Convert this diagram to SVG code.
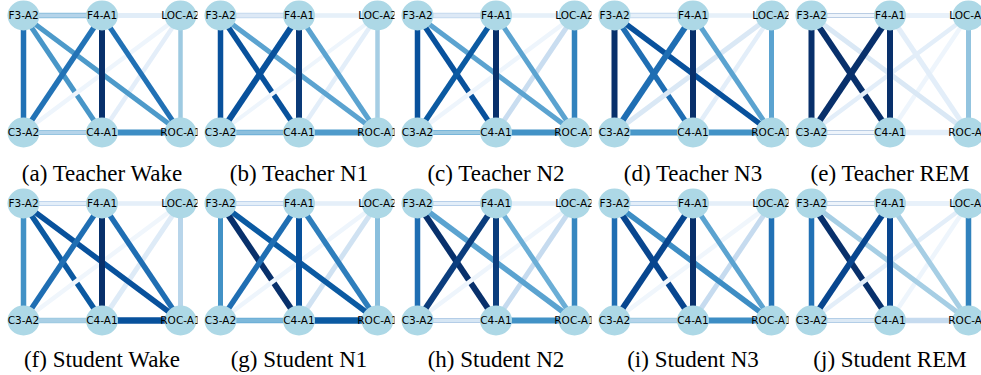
<svg xmlns="http://www.w3.org/2000/svg" width="981" height="375" viewBox="0 0 981 375">
<style>
  .edges line { stroke-linecap: butt; fill: none; }
  .node ellipse { fill: #add8e6; stroke: none; }
  .node text { font-family: "DejaVu Sans", "Liberation Sans", sans-serif; font-size: 10.5px; fill: #000; text-anchor: middle; }
  .caption { font-family: "Liberation Serif", "Times New Roman", serif; font-size: 23px; fill: #000; text-anchor: middle; }
</style>
<defs>
  <clipPath id="panel-clip" clipPathUnits="userSpaceOnUse">
    <rect x="-17" y="-17" width="191" height="151"/>
  </clipPath>
</defs>
<rect width="981" height="375" fill="#fff"/>

<!-- (a) Teacher Wake -->
<g id="panel-a" transform="translate(23.5,15.5)">
 <g clip-path="url(#panel-clip)">
  <g class="edges">
   <line x1="0" y1="0" x2="78.5" y2="0" stroke="#8cbfdd" stroke-width="5.5"/>
   <line x1="0" y1="0" x2="0" y2="117" stroke="#2171b5" stroke-width="5.5"/>
   <line x1="0" y1="0" x2="157" y2="0" stroke="#b5d4ea" stroke-width="3.5"/>
   <line x1="78.5" y1="117" x2="157" y2="0" stroke="#e4eef9" stroke-width="4.5"/>
   <line x1="0" y1="0" x2="78.5" y2="117" stroke="#4896c8" stroke-width="5"/>
   <line x1="0" y1="117" x2="157" y2="0" stroke="#eef5fc" stroke-width="4.5"/>
   <line x1="0" y1="0" x2="157" y2="117" stroke="#4d9aca" stroke-width="5"/>
   <line x1="78.5" y1="0" x2="0" y2="117" stroke="#2373b6" stroke-width="5.5"/>
   <line x1="78.5" y1="0" x2="78.5" y2="117" stroke="#08306b" stroke-width="6"/>
   <line x1="78.5" y1="0" x2="157" y2="0" stroke="#e1edf8" stroke-width="5"/>
   <line x1="78.5" y1="0" x2="157" y2="117" stroke="#2171b5" stroke-width="5"/>
   <line x1="0" y1="117" x2="78.5" y2="117" stroke="#8cbfdd" stroke-width="5"/>
   <line x1="0" y1="117" x2="157" y2="117" stroke="#b5d4ea" stroke-width="3.5"/>
   <line x1="78.5" y1="117" x2="157" y2="117" stroke="#3d8dc4" stroke-width="6"/>
   <line x1="157" y1="0" x2="157" y2="117" stroke="#9ecae1" stroke-width="4.5"/>
  </g>
  <g id="a-F3" class="node"><ellipse cx="0" cy="0" rx="16" ry="15"/><text x="0" y="3.8">F3-A2</text></g>
  <g id="a-F4" class="node"><ellipse cx="78.5" cy="0" rx="16" ry="15"/><text x="78.5" y="3.8">F4-A1</text></g>
  <g id="a-LOC" class="node"><ellipse cx="157" cy="0" rx="16" ry="15"/><text x="157" y="3.8">LOC-A2</text></g>
  <g id="a-C3" class="node"><ellipse cx="0" cy="117" rx="16" ry="15"/><text x="0" y="120.8">C3-A2</text></g>
  <g id="a-C4" class="node"><ellipse cx="78.5" cy="117" rx="16" ry="15"/><text x="78.5" y="120.8">C4-A1</text></g>
  <g id="a-ROC" class="node"><ellipse cx="157" cy="117" rx="16" ry="15"/><text x="157" y="120.8">ROC-A1</text></g>
 </g>
 <text class="caption" x="78.5" y="165.5">(a) Teacher Wake</text>
</g>

<!-- (b) Teacher N1 -->
<g id="panel-b" transform="translate(220.5,15.5)">
 <g clip-path="url(#panel-clip)">
  <g class="edges">
   <line x1="0" y1="0" x2="78.5" y2="0" stroke="#c4d9ee" stroke-width="5.5"/>
   <line x1="0" y1="0" x2="0" y2="117" stroke="#08519c" stroke-width="5.5"/>
   <line x1="0" y1="0" x2="157" y2="0" stroke="#dde9f6" stroke-width="3.5"/>
   <line x1="78.5" y1="117" x2="157" y2="0" stroke="#e3eef9" stroke-width="4.5"/>
   <line x1="0" y1="0" x2="78.5" y2="117" stroke="#08519c" stroke-width="5.5"/>
   <line x1="0" y1="117" x2="157" y2="0" stroke="#eef5fc" stroke-width="4"/>
   <line x1="0" y1="0" x2="157" y2="117" stroke="#5ba3d0" stroke-width="5"/>
   <line x1="78.5" y1="0" x2="0" y2="117" stroke="#08519c" stroke-width="6"/>
   <line x1="78.5" y1="0" x2="78.5" y2="117" stroke="#0a3a78" stroke-width="6"/>
   <line x1="78.5" y1="0" x2="157" y2="0" stroke="#e6f0f9" stroke-width="4.5"/>
   <line x1="78.5" y1="0" x2="157" y2="117" stroke="#5ba3d0" stroke-width="5"/>
   <line x1="0" y1="117" x2="78.5" y2="117" stroke="#6baed6" stroke-width="5.5"/>
   <line x1="0" y1="117" x2="157" y2="117" stroke="#8cbfdd" stroke-width="3.5"/>
   <line x1="78.5" y1="117" x2="157" y2="117" stroke="#4f9bcb" stroke-width="6"/>
   <line x1="157" y1="0" x2="157" y2="117" stroke="#a6cee4" stroke-width="4.5"/>
  </g>
  <g id="b-F3" class="node"><ellipse cx="0" cy="0" rx="16" ry="15"/><text x="0" y="3.8">F3-A2</text></g>
  <g id="b-F4" class="node"><ellipse cx="78.5" cy="0" rx="16" ry="15"/><text x="78.5" y="3.8">F4-A1</text></g>
  <g id="b-LOC" class="node"><ellipse cx="157" cy="0" rx="16" ry="15"/><text x="157" y="3.8">LOC-A2</text></g>
  <g id="b-C3" class="node"><ellipse cx="0" cy="117" rx="16" ry="15"/><text x="0" y="120.8">C3-A2</text></g>
  <g id="b-C4" class="node"><ellipse cx="78.5" cy="117" rx="16" ry="15"/><text x="78.5" y="120.8">C4-A1</text></g>
  <g id="b-ROC" class="node"><ellipse cx="157" cy="117" rx="16" ry="15"/><text x="157" y="120.8">ROC-A1</text></g>
 </g>
 <text class="caption" x="78.5" y="165.5">(b) Teacher N1</text>
</g>

<!-- (c) Teacher N2 -->
<g id="panel-c" transform="translate(417.5,15.5)">
 <g clip-path="url(#panel-clip)">
  <g class="edges">
   <line x1="0" y1="0" x2="78.5" y2="0" stroke="#c4d9ee" stroke-width="5.5"/>
   <line x1="0" y1="0" x2="0" y2="117" stroke="#08519c" stroke-width="5.5"/>
   <line x1="0" y1="0" x2="157" y2="0" stroke="#dde9f6" stroke-width="3.5"/>
   <line x1="78.5" y1="117" x2="157" y2="0" stroke="#c9ddf0" stroke-width="5"/>
   <line x1="0" y1="0" x2="78.5" y2="117" stroke="#08519c" stroke-width="5.5"/>
   <line x1="0" y1="117" x2="157" y2="0" stroke="#eef5fc" stroke-width="4.5"/>
   <line x1="0" y1="0" x2="157" y2="117" stroke="#5ba3d0" stroke-width="5"/>
   <line x1="78.5" y1="0" x2="0" y2="117" stroke="#0b5aa2" stroke-width="5.5"/>
   <line x1="78.5" y1="0" x2="78.5" y2="117" stroke="#08306b" stroke-width="6"/>
   <line x1="78.5" y1="0" x2="157" y2="0" stroke="#e6f0f9" stroke-width="4.5"/>
   <line x1="78.5" y1="0" x2="157" y2="117" stroke="#5ba3d0" stroke-width="5"/>
   <line x1="0" y1="117" x2="78.5" y2="117" stroke="#6baed6" stroke-width="5"/>
   <line x1="0" y1="117" x2="157" y2="117" stroke="#9ecae1" stroke-width="3.5"/>
   <line x1="78.5" y1="117" x2="157" y2="117" stroke="#4292c6" stroke-width="6"/>
   <line x1="157" y1="0" x2="157" y2="117" stroke="#3182bd" stroke-width="5.5"/>
  </g>
  <g id="c-F3" class="node"><ellipse cx="0" cy="0" rx="16" ry="15"/><text x="0" y="3.8">F3-A2</text></g>
  <g id="c-F4" class="node"><ellipse cx="78.5" cy="0" rx="16" ry="15"/><text x="78.5" y="3.8">F4-A1</text></g>
  <g id="c-LOC" class="node"><ellipse cx="157" cy="0" rx="16" ry="15"/><text x="157" y="3.8">LOC-A2</text></g>
  <g id="c-C3" class="node"><ellipse cx="0" cy="117" rx="16" ry="15"/><text x="0" y="120.8">C3-A2</text></g>
  <g id="c-C4" class="node"><ellipse cx="78.5" cy="117" rx="16" ry="15"/><text x="78.5" y="120.8">C4-A1</text></g>
  <g id="c-ROC" class="node"><ellipse cx="157" cy="117" rx="16" ry="15"/><text x="157" y="120.8">ROC-A1</text></g>
 </g>
 <text class="caption" x="78.5" y="165.5">(c) Teacher N2</text>
</g>

<!-- (d) Teacher N3 -->
<g id="panel-d" transform="translate(614.5,15.5)">
 <g clip-path="url(#panel-clip)">
  <g class="edges">
   <line x1="0" y1="0" x2="78.5" y2="0" stroke="#c4d9ee" stroke-width="5.5"/>
   <line x1="0" y1="0" x2="0" y2="117" stroke="#08306b" stroke-width="6"/>
   <line x1="0" y1="0" x2="157" y2="0" stroke="#e6f0f9" stroke-width="3.5"/>
   <line x1="78.5" y1="117" x2="157" y2="0" stroke="#e3eef9" stroke-width="4.5"/>
   <line x1="0" y1="0" x2="78.5" y2="117" stroke="#1f6eb3" stroke-width="5.5"/>
   <line x1="0" y1="117" x2="157" y2="0" stroke="#dae8f5" stroke-width="5"/>
   <line x1="0" y1="0" x2="157" y2="117" stroke="#08519c" stroke-width="5.5"/>
   <line x1="78.5" y1="0" x2="0" y2="117" stroke="#1f6eb3" stroke-width="6"/>
   <line x1="78.5" y1="0" x2="78.5" y2="117" stroke="#08306b" stroke-width="6"/>
   <line x1="78.5" y1="0" x2="157" y2="0" stroke="#e6f0f9" stroke-width="4.5"/>
   <line x1="78.5" y1="0" x2="157" y2="117" stroke="#5ba3d0" stroke-width="5"/>
   <line x1="0" y1="117" x2="78.5" y2="117" stroke="#4292c6" stroke-width="6"/>
   <line x1="0" y1="117" x2="157" y2="117" stroke="#4a98c9" stroke-width="4"/>
   <line x1="78.5" y1="117" x2="157" y2="117" stroke="#4292c6" stroke-width="6"/>
   <line x1="157" y1="0" x2="157" y2="117" stroke="#5ba3d0" stroke-width="5"/>
  </g>
  <g id="d-F3" class="node"><ellipse cx="0" cy="0" rx="16" ry="15"/><text x="0" y="3.8">F3-A2</text></g>
  <g id="d-F4" class="node"><ellipse cx="78.5" cy="0" rx="16" ry="15"/><text x="78.5" y="3.8">F4-A1</text></g>
  <g id="d-LOC" class="node"><ellipse cx="157" cy="0" rx="16" ry="15"/><text x="157" y="3.8">LOC-A2</text></g>
  <g id="d-C3" class="node"><ellipse cx="0" cy="117" rx="16" ry="15"/><text x="0" y="120.8">C3-A2</text></g>
  <g id="d-C4" class="node"><ellipse cx="78.5" cy="117" rx="16" ry="15"/><text x="78.5" y="120.8">C4-A1</text></g>
  <g id="d-ROC" class="node"><ellipse cx="157" cy="117" rx="16" ry="15"/><text x="157" y="120.8">ROC-A1</text></g>
 </g>
 <text class="caption" x="78.5" y="165.5">(d) Teacher N3</text>
</g>

<!-- (e) Teacher REM -->
<g id="panel-e" transform="translate(811.5,15.5)">
 <g clip-path="url(#panel-clip)">
  <g class="edges">
   <line x1="0" y1="0" x2="78.5" y2="0" stroke="#a9c0dd" stroke-width="5"/>
   <line x1="0" y1="0" x2="0" y2="117" stroke="#08306b" stroke-width="6"/>
   <line x1="0" y1="0" x2="157" y2="0" stroke="#eef4fb" stroke-width="3.5"/>
   <line x1="78.5" y1="117" x2="157" y2="0" stroke="#eef5fc" stroke-width="4.5"/>
   <line x1="0" y1="0" x2="78.5" y2="117" stroke="#08306b" stroke-width="6"/>
   <line x1="0" y1="117" x2="157" y2="0" stroke="#e3eef9" stroke-width="4.5"/>
   <line x1="0" y1="0" x2="157" y2="117" stroke="#dae8f5" stroke-width="5"/>
   <line x1="78.5" y1="0" x2="0" y2="117" stroke="#08306b" stroke-width="6.5"/>
   <line x1="78.5" y1="0" x2="78.5" y2="117" stroke="#08306b" stroke-width="6"/>
   <line x1="78.5" y1="0" x2="157" y2="0" stroke="#e8f1fa" stroke-width="5"/>
   <line x1="78.5" y1="0" x2="157" y2="117" stroke="#e3eef9" stroke-width="5"/>
   <line x1="0" y1="117" x2="78.5" y2="117" stroke="#a9c0dd" stroke-width="5"/>
   <line x1="0" y1="117" x2="157" y2="117" stroke="#eef4fb" stroke-width="3.5"/>
   <line x1="78.5" y1="117" x2="157" y2="117" stroke="#e3eef9" stroke-width="5.5"/>
   <line x1="157" y1="0" x2="157" y2="117" stroke="#93c4df" stroke-width="5"/>
  </g>
  <g id="e-F3" class="node"><ellipse cx="0" cy="0" rx="16" ry="15"/><text x="0" y="3.8">F3-A2</text></g>
  <g id="e-F4" class="node"><ellipse cx="78.5" cy="0" rx="16" ry="15"/><text x="78.5" y="3.8">F4-A1</text></g>
  <g id="e-LOC" class="node"><ellipse cx="157" cy="0" rx="16" ry="15"/><text x="157" y="3.8">LOC-A2</text></g>
  <g id="e-C3" class="node"><ellipse cx="0" cy="117" rx="16" ry="15"/><text x="0" y="120.8">C3-A2</text></g>
  <g id="e-C4" class="node"><ellipse cx="78.5" cy="117" rx="16" ry="15"/><text x="78.5" y="120.8">C4-A1</text></g>
  <g id="e-ROC" class="node"><ellipse cx="157" cy="117" rx="16" ry="15"/><text x="157" y="120.8">ROC-A1</text></g>
 </g>
 <text class="caption" x="78.5" y="165.5">(e) Teacher REM</text>
</g>

<!-- (f) Student Wake -->
<g id="panel-f" transform="translate(23.5,203.5)">
 <g clip-path="url(#panel-clip)">
  <g class="edges">
   <line x1="0" y1="0" x2="78.5" y2="0" stroke="#b5cde8" stroke-width="5"/>
   <line x1="0" y1="0" x2="0" y2="117" stroke="#4292c6" stroke-width="5.5"/>
   <line x1="0" y1="0" x2="157" y2="0" stroke="#e3eef9" stroke-width="3.5"/>
   <line x1="78.5" y1="117" x2="157" y2="0" stroke="#deebf7" stroke-width="5"/>
   <line x1="0" y1="0" x2="78.5" y2="117" stroke="#0b59a1" stroke-width="5.5"/>
   <line x1="0" y1="117" x2="157" y2="0" stroke="#f0f6fc" stroke-width="4.5"/>
   <line x1="0" y1="0" x2="157" y2="117" stroke="#08519c" stroke-width="5.5"/>
   <line x1="78.5" y1="0" x2="0" y2="117" stroke="#1f6eb3" stroke-width="5.5"/>
   <line x1="78.5" y1="0" x2="78.5" y2="117" stroke="#08306b" stroke-width="6"/>
   <line x1="78.5" y1="0" x2="157" y2="0" stroke="#e5eff9" stroke-width="4.5"/>
   <line x1="78.5" y1="0" x2="157" y2="117" stroke="#1f6eb3" stroke-width="5.5"/>
   <line x1="0" y1="117" x2="78.5" y2="117" stroke="#9ecae1" stroke-width="5.5"/>
   <line x1="0" y1="117" x2="157" y2="117" stroke="#a9cfe5" stroke-width="3.5"/>
   <line x1="78.5" y1="117" x2="157" y2="117" stroke="#08519c" stroke-width="6.5"/>
   <line x1="157" y1="0" x2="157" y2="117" stroke="#b8d5ea" stroke-width="5"/>
  </g>
  <g id="f-F3" class="node"><ellipse cx="0" cy="0" rx="16" ry="15"/><text x="0" y="3.8">F3-A2</text></g>
  <g id="f-F4" class="node"><ellipse cx="78.5" cy="0" rx="16" ry="15"/><text x="78.5" y="3.8">F4-A1</text></g>
  <g id="f-LOC" class="node"><ellipse cx="157" cy="0" rx="16" ry="15"/><text x="157" y="3.8">LOC-A2</text></g>
  <g id="f-C3" class="node"><ellipse cx="0" cy="117" rx="16" ry="15"/><text x="0" y="120.8">C3-A2</text></g>
  <g id="f-C4" class="node"><ellipse cx="78.5" cy="117" rx="16" ry="15"/><text x="78.5" y="120.8">C4-A1</text></g>
  <g id="f-ROC" class="node"><ellipse cx="157" cy="117" rx="16" ry="15"/><text x="157" y="120.8">ROC-A1</text></g>
 </g>
 <text class="caption" x="78.5" y="163.5">(f) Student Wake</text>
</g>

<!-- (g) Student N1 -->
<g id="panel-g" transform="translate(220.5,203.5)">
 <g clip-path="url(#panel-clip)">
  <g class="edges">
   <line x1="0" y1="0" x2="78.5" y2="0" stroke="#b5cde8" stroke-width="5"/>
   <line x1="0" y1="0" x2="0" y2="117" stroke="#4292c6" stroke-width="5"/>
   <line x1="0" y1="0" x2="157" y2="0" stroke="#e3eef9" stroke-width="3.5"/>
   <line x1="78.5" y1="117" x2="157" y2="0" stroke="#d0e2f2" stroke-width="5"/>
   <line x1="0" y1="0" x2="78.5" y2="117" stroke="#08306b" stroke-width="6"/>
   <line x1="0" y1="117" x2="157" y2="0" stroke="#eef5fc" stroke-width="4.5"/>
   <line x1="0" y1="0" x2="157" y2="117" stroke="#0b5aa2" stroke-width="5.5"/>
   <line x1="78.5" y1="0" x2="0" y2="117" stroke="#1f6eb3" stroke-width="5.5"/>
   <line x1="78.5" y1="0" x2="78.5" y2="117" stroke="#08519c" stroke-width="6"/>
   <line x1="78.5" y1="0" x2="157" y2="0" stroke="#e5eff9" stroke-width="4.5"/>
   <line x1="78.5" y1="0" x2="157" y2="117" stroke="#2e7ebc" stroke-width="5.5"/>
   <line x1="0" y1="117" x2="78.5" y2="117" stroke="#6baed6" stroke-width="5.5"/>
   <line x1="0" y1="117" x2="157" y2="117" stroke="#7db8da" stroke-width="3.5"/>
   <line x1="78.5" y1="117" x2="157" y2="117" stroke="#0b5aa2" stroke-width="6.5"/>
   <line x1="157" y1="0" x2="157" y2="117" stroke="#8abfdd" stroke-width="5"/>
  </g>
  <g id="g-F3" class="node"><ellipse cx="0" cy="0" rx="16" ry="15"/><text x="0" y="3.8">F3-A2</text></g>
  <g id="g-F4" class="node"><ellipse cx="78.5" cy="0" rx="16" ry="15"/><text x="78.5" y="3.8">F4-A1</text></g>
  <g id="g-LOC" class="node"><ellipse cx="157" cy="0" rx="16" ry="15"/><text x="157" y="3.8">LOC-A2</text></g>
  <g id="g-C3" class="node"><ellipse cx="0" cy="117" rx="16" ry="15"/><text x="0" y="120.8">C3-A2</text></g>
  <g id="g-C4" class="node"><ellipse cx="78.5" cy="117" rx="16" ry="15"/><text x="78.5" y="120.8">C4-A1</text></g>
  <g id="g-ROC" class="node"><ellipse cx="157" cy="117" rx="16" ry="15"/><text x="157" y="120.8">ROC-A1</text></g>
 </g>
 <text class="caption" x="78.5" y="163.5">(g) Student N1</text>
</g>

<!-- (h) Student N2 -->
<g id="panel-h" transform="translate(417.5,203.5)">
 <g clip-path="url(#panel-clip)">
  <g class="edges">
   <line x1="0" y1="0" x2="78.5" y2="0" stroke="#a9c4e3" stroke-width="5"/>
   <line x1="0" y1="0" x2="0" y2="117" stroke="#1f6eb3" stroke-width="5.5"/>
   <line x1="0" y1="0" x2="157" y2="0" stroke="#e3eef9" stroke-width="3.5"/>
   <line x1="78.5" y1="117" x2="157" y2="0" stroke="#c6dbef" stroke-width="5"/>
   <line x1="0" y1="0" x2="78.5" y2="117" stroke="#08306b" stroke-width="6"/>
   <line x1="0" y1="117" x2="157" y2="0" stroke="#eef5fc" stroke-width="4.5"/>
   <line x1="0" y1="0" x2="157" y2="117" stroke="#5ba3d0" stroke-width="5.5"/>
   <line x1="78.5" y1="0" x2="0" y2="117" stroke="#0b3d7d" stroke-width="6"/>
   <line x1="78.5" y1="0" x2="78.5" y2="117" stroke="#0b3d7d" stroke-width="6"/>
   <line x1="78.5" y1="0" x2="157" y2="0" stroke="#e5eff9" stroke-width="4.5"/>
   <line x1="78.5" y1="0" x2="157" y2="117" stroke="#6baed6" stroke-width="5"/>
   <line x1="0" y1="117" x2="78.5" y2="117" stroke="#a9c4e3" stroke-width="5"/>
   <line x1="0" y1="117" x2="157" y2="117" stroke="#d6e6f4" stroke-width="3.5"/>
   <line x1="78.5" y1="117" x2="157" y2="117" stroke="#4292c6" stroke-width="6"/>
   <line x1="157" y1="0" x2="157" y2="117" stroke="#3787c0" stroke-width="5.5"/>
  </g>
  <g id="h-F3" class="node"><ellipse cx="0" cy="0" rx="16" ry="15"/><text x="0" y="3.8">F3-A2</text></g>
  <g id="h-F4" class="node"><ellipse cx="78.5" cy="0" rx="16" ry="15"/><text x="78.5" y="3.8">F4-A1</text></g>
  <g id="h-LOC" class="node"><ellipse cx="157" cy="0" rx="16" ry="15"/><text x="157" y="3.8">LOC-A2</text></g>
  <g id="h-C3" class="node"><ellipse cx="0" cy="117" rx="16" ry="15"/><text x="0" y="120.8">C3-A2</text></g>
  <g id="h-C4" class="node"><ellipse cx="78.5" cy="117" rx="16" ry="15"/><text x="78.5" y="120.8">C4-A1</text></g>
  <g id="h-ROC" class="node"><ellipse cx="157" cy="117" rx="16" ry="15"/><text x="157" y="120.8">ROC-A1</text></g>
 </g>
 <text class="caption" x="78.5" y="163.5">(h) Student N2</text>
</g>

<!-- (i) Student N3 -->
<g id="panel-i" transform="translate(614.5,203.5)">
 <g clip-path="url(#panel-clip)">
  <g class="edges">
   <line x1="0" y1="0" x2="78.5" y2="0" stroke="#a9c4e3" stroke-width="5"/>
   <line x1="0" y1="0" x2="0" y2="117" stroke="#1f6eb3" stroke-width="5.5"/>
   <line x1="0" y1="0" x2="157" y2="0" stroke="#e3eef9" stroke-width="3.5"/>
   <line x1="78.5" y1="117" x2="157" y2="0" stroke="#c6dbef" stroke-width="5"/>
   <line x1="0" y1="0" x2="78.5" y2="117" stroke="#08468f" stroke-width="6"/>
   <line x1="0" y1="117" x2="157" y2="0" stroke="#f0f6fc" stroke-width="4.5"/>
   <line x1="0" y1="0" x2="157" y2="117" stroke="#3d8dc4" stroke-width="5.5"/>
   <line x1="78.5" y1="0" x2="0" y2="117" stroke="#08468f" stroke-width="6"/>
   <line x1="78.5" y1="0" x2="78.5" y2="117" stroke="#08306b" stroke-width="6"/>
   <line x1="78.5" y1="0" x2="157" y2="0" stroke="#e5eff9" stroke-width="4.5"/>
   <line x1="78.5" y1="0" x2="157" y2="117" stroke="#5ba3d0" stroke-width="5"/>
   <line x1="0" y1="117" x2="78.5" y2="117" stroke="#9ecae1" stroke-width="5.5"/>
   <line x1="0" y1="117" x2="157" y2="117" stroke="#b5d4ea" stroke-width="3.5"/>
   <line x1="78.5" y1="117" x2="157" y2="117" stroke="#3d8dc4" stroke-width="6"/>
   <line x1="157" y1="0" x2="157" y2="117" stroke="#2171b5" stroke-width="5.5"/>
  </g>
  <g id="i-F3" class="node"><ellipse cx="0" cy="0" rx="16" ry="15"/><text x="0" y="3.8">F3-A2</text></g>
  <g id="i-F4" class="node"><ellipse cx="78.5" cy="0" rx="16" ry="15"/><text x="78.5" y="3.8">F4-A1</text></g>
  <g id="i-LOC" class="node"><ellipse cx="157" cy="0" rx="16" ry="15"/><text x="157" y="3.8">LOC-A2</text></g>
  <g id="i-C3" class="node"><ellipse cx="0" cy="117" rx="16" ry="15"/><text x="0" y="120.8">C3-A2</text></g>
  <g id="i-C4" class="node"><ellipse cx="78.5" cy="117" rx="16" ry="15"/><text x="78.5" y="120.8">C4-A1</text></g>
  <g id="i-ROC" class="node"><ellipse cx="157" cy="117" rx="16" ry="15"/><text x="157" y="120.8">ROC-A1</text></g>
 </g>
 <text class="caption" x="78.5" y="163.5">(i) Student N3</text>
</g>

<!-- (j) Student REM -->
<g id="panel-j" transform="translate(811.5,203.5)">
 <g clip-path="url(#panel-clip)">
  <g class="edges">
   <line x1="0" y1="0" x2="78.5" y2="0" stroke="#a9c0dd" stroke-width="5"/>
   <line x1="0" y1="0" x2="0" y2="117" stroke="#2171b5" stroke-width="5.5"/>
   <line x1="0" y1="0" x2="157" y2="0" stroke="#eef4fb" stroke-width="3.5"/>
   <line x1="78.5" y1="117" x2="157" y2="0" stroke="#eef5fc" stroke-width="4.5"/>
   <line x1="0" y1="0" x2="78.5" y2="117" stroke="#08306b" stroke-width="6"/>
   <line x1="0" y1="117" x2="157" y2="0" stroke="#e3eef9" stroke-width="4.5"/>
   <line x1="0" y1="0" x2="157" y2="117" stroke="#a6cee4" stroke-width="5"/>
   <line x1="78.5" y1="0" x2="0" y2="117" stroke="#08468f" stroke-width="6"/>
   <line x1="78.5" y1="0" x2="78.5" y2="117" stroke="#08468f" stroke-width="6"/>
   <line x1="78.5" y1="0" x2="157" y2="0" stroke="#e8f1fa" stroke-width="5"/>
   <line x1="78.5" y1="0" x2="157" y2="117" stroke="#a6cee4" stroke-width="5"/>
   <line x1="0" y1="117" x2="78.5" y2="117" stroke="#a6c4e2" stroke-width="5"/>
   <line x1="0" y1="117" x2="157" y2="117" stroke="#dce9f5" stroke-width="3.5"/>
   <line x1="78.5" y1="117" x2="157" y2="117" stroke="#c6dbef" stroke-width="5.5"/>
   <line x1="157" y1="0" x2="157" y2="117" stroke="#3182bd" stroke-width="5.5"/>
  </g>
  <g id="j-F3" class="node"><ellipse cx="0" cy="0" rx="16" ry="15"/><text x="0" y="3.8">F3-A2</text></g>
  <g id="j-F4" class="node"><ellipse cx="78.5" cy="0" rx="16" ry="15"/><text x="78.5" y="3.8">F4-A1</text></g>
  <g id="j-LOC" class="node"><ellipse cx="157" cy="0" rx="16" ry="15"/><text x="157" y="3.8">LOC-A2</text></g>
  <g id="j-C3" class="node"><ellipse cx="0" cy="117" rx="16" ry="15"/><text x="0" y="120.8">C3-A2</text></g>
  <g id="j-C4" class="node"><ellipse cx="78.5" cy="117" rx="16" ry="15"/><text x="78.5" y="120.8">C4-A1</text></g>
  <g id="j-ROC" class="node"><ellipse cx="157" cy="117" rx="16" ry="15"/><text x="157" y="120.8">ROC-A1</text></g>
 </g>
 <text class="caption" x="78.5" y="163.5">(j) Student REM</text>
</g>
</svg>
